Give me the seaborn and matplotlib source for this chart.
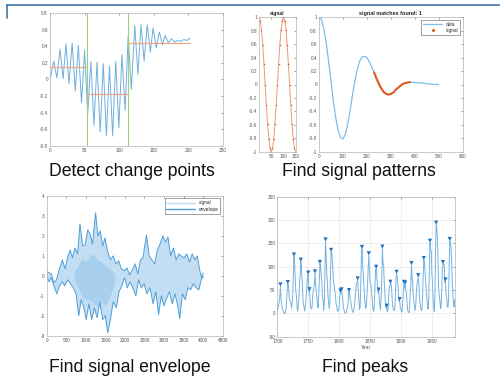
import numpy as np
import pandas as pd
import matplotlib.pyplot as plt
import seaborn as sns
from matplotlib.lines import Line2D

# Detect change points: extrema of the signal, change points and segment means
cp_x = [0, 5.5, 10, 14.5, 19, 23, 27.5, 32, 36.5, 41, 45.5, 50, 54.5, 59, 63.5, 68, 72.5,
        77, 81.5, 86, 90.5, 95, 99.5, 104, 108.5, 113, 117.5, 122.5, 127, 131.5, 136,
        140.5, 145, 149, 153.5, 158, 162.5, 166.5, 171, 175.5, 180, 184.5, 189, 193.5, 198, 202]
cp_y = [0.0, 0.22, 0.02, 0.37, 0.01, 0.43, -0.05, 0.44, -0.14, 0.41, -0.28, 0.35, -0.41,
        0.22, -0.55, 0.21, -0.63, 0.19, -0.68, 0.16, -0.68, 0.22, -0.58, 0.30, -0.37, 0.53,
        -0.12, 0.65, 0.06, 0.66, 0.22, 0.66, 0.33, 0.62, 0.38, 0.57, 0.42, 0.53, 0.44, 0.49,
        0.45, 0.47, 0.46, 0.48, 0.47, 0.50]
cp_breaks = [53, 112]
cp_start = [0, 53, 112]
cp_end = [53, 112, 202]
cp_mean = [0.15, -0.17, 0.44]

# Find signal patterns
sig_x = [1, 5, 10, 15, 20, 25, 30, 35, 40, 45, 50, 55, 60, 65, 70, 75, 80, 85, 90, 95,
         100, 105, 110, 115, 120, 125, 130, 135, 140, 145, 150]
sig_y = [1.0, 0.95, 0.81, 0.59, 0.31, 0.0, -0.31, -0.59, -0.81, -0.95, -1.0, -0.95, -0.81,
         -0.59, -0.31, 0.0, 0.31, 0.59, 0.81, 0.95, 1.0, 0.95, 0.81, 0.59, 0.31, 0.0, -0.31,
         -0.59, -0.81, -0.95, -1.0]
dat_x = [0, 10, 20, 30, 40, 50, 60, 70, 80, 90, 100, 110, 120, 130, 140, 150, 160, 170, 180,
         190, 200, 210, 220, 230, 240, 250, 260, 270, 280, 290, 300, 310, 320, 330, 340, 350,
         360, 370, 380, 390, 400, 420, 440, 460, 480, 500]
dat_y = [1.0, 0.97, 0.84, 0.62, 0.35, 0.05, -0.25, -0.50, -0.68, -0.79, -0.81, -0.74, -0.59,
         -0.38, -0.15, 0.06, 0.23, 0.35, 0.41, 0.42, 0.40, 0.34, 0.26, 0.18, 0.09, 0.01, -0.06,
         -0.11, -0.14, -0.15, -0.14, -0.12, -0.08, -0.05, -0.02, 0.01, 0.02, 0.03, 0.035, 0.03,
         0.03, 0.025, 0.02, 0.005, 0.0, 0.0]
match_lo, match_hi = 230, 380

# Find signal envelope
up_x = [0, 60, 120, 180, 250, 320, 400, 470, 530, 600, 660, 720, 790, 850, 920, 980, 1050,
        1110, 1170, 1250, 1310, 1370, 1430, 1490, 1560, 1630, 1700, 1770, 1840, 1910, 1980,
        2050, 2120, 2190, 2260, 2330, 2400, 2460, 2550, 2620, 2690, 2760, 2830, 2900, 2970,
        3040, 3100, 3170, 3240, 3310, 3380, 3440, 3510, 3580, 3650, 3720, 3790, 3850, 3910,
        3960, 4000]
up_y = [0.25, 0.15, 0.1, -0.35, -0.2, 0.3, 0.8, 0.35, 0.9, 1.3, 0.9, 1.4, 1.1, 2.6, 1.5,
        1.55, 2.3, 2.1, 1.6, 3.15, 2.0, 2.25, 1.5, 1.9, 1.2, 0.8, 1.0, 0.6, 0.75, 0.35, 0.25,
        0.4, 0.05, 0.3, 0.6, 0.1, 0.8, 0.9, 2.05, 1.0, 0.8, 0.6, 1.3, 1.6, 2.0, 1.7, 1.95,
        1.0, 1.4, 0.8, 1.1, 1.0, 0.9, 1.1, 0.7, 1.1, 0.8, 1.0, 0.3, -0.1, 0.15]
lo_x = [0, 60, 120, 200, 260, 330, 400, 460, 540, 610, 680, 750, 820, 880, 950, 1010, 1080,
        1150, 1220, 1290, 1360, 1430, 1500, 1560, 1620, 1700, 1780, 1850, 1920, 1990, 2060,
        2130, 2200, 2280, 2350, 2420, 2490, 2560, 2640, 2720, 2790, 2860, 2930, 3000, 3070,
        3140, 3210, 3280, 3350, 3400, 3470, 3540, 3610, 3680, 3750, 3820, 3890, 3950, 4000]
lo_y = [0.0, -0.3, -0.1, -0.6, -0.9, -0.5, -0.3, -0.5, -0.2, -0.4, -0.6, -0.9, -2.0, -1.2,
        -1.6, -2.2, -1.4, -2.2, -1.6, -2.1, -1.3, -2.2, -2.0, -2.85, -2.3, -1.3, -1.6, -0.8,
        -0.5, -0.1, -0.6, -0.3, -0.6, -1.0, -0.2, -0.6, -0.4, -0.9, -0.6, -1.4, -0.8, -1.95,
        -1.0, -1.5, -1.1, -0.8, -1.4, -0.9, -1.5, -2.15, -0.9, -1.2, -0.6, -0.7, -0.4, -0.6,
        -0.7, -0.2, -0.05]
# denser core of the signal trace
core_x = [700, 800, 900, 1000, 1100, 1200, 1300, 1400, 1500, 1600, 1700, 1760]
core_hi = [0.2, 0.5, 0.9, 0.7, 1.0, 1.1, 0.8, 0.7, 0.5, 0.4, 0.2, 0.0]
core_lo = [-0.2, -0.6, -1.0, -1.2, -1.2, -1.4, -1.5, -1.3, -1.5, -1.1, -0.6, 0.0]

# Find peaks: yearly sunspot numbers 1700-1987
years = np.arange(1700, 1988)
spots = [5, 11, 16, 23, 36, 58, 29, 20, 10, 8,
         3, 0, 0, 2, 11, 27, 47, 63, 60, 39,
         28, 26, 22, 11, 21, 40, 78, 122, 103, 73,
         47, 35, 11, 5, 16, 34, 70, 81, 111, 101,
         73, 40, 20, 16, 5, 11, 22, 40, 60, 80.9,
         83.4, 47.7, 47.8, 30.7, 12.2, 9.6, 10.2, 32.4, 47.6, 54,
         62.9, 85.9, 61.2, 45.1, 36.4, 20.9, 11.4, 37.8, 69.8, 106.1,
         100.8, 81.6, 66.5, 34.8, 30.6, 7, 19.8, 92.5, 154.4, 125.9,
         84.8, 68.1, 38.5, 22.8, 10.2, 24.1, 82.9, 132, 130.9, 118.1,
         89.9, 66.6, 60, 46.9, 41, 21.3, 16, 6.4, 4.1, 6.8,
         14.5, 34, 45, 43.1, 47.5, 42.2, 28.1, 10.1, 8.1, 2.5,
         0, 1.4, 5, 12.2, 13.9, 35.4, 45.8, 41.1, 30.1, 23.9,
         15.6, 6.6, 4, 1.8, 8.5, 16.6, 36.3, 49.6, 64.2, 67,
         70.9, 47.8, 27.5, 8.5, 13.2, 56.9, 121.5, 138.3, 103.2, 85.7,
         64.6, 36.7, 24.2, 10.7, 15, 40.1, 61.5, 98.5, 124.7, 96.3,
         66.6, 64.5, 54.1, 39, 20.6, 6.7, 4.3, 22.7, 54.8, 93.8,
         95.8, 77.2, 59.1, 44, 47, 30.5, 16.3, 7.3, 37.6, 74,
         139, 111.2, 101.6, 66.2, 44.7, 17, 11.3, 12.4, 3.4, 6,
         32.3, 54.3, 59.7, 63.7, 63.5, 52.2, 25.4, 13.1, 6.8, 6.3,
         7.1, 35.6, 73, 85.1, 78, 64, 41.8, 26.2, 26.7, 12.1,
         9.5, 2.7, 5, 24.4, 42, 63.5, 53.8, 62, 48.5, 43.9,
         18.6, 5.7, 3.6, 1.4, 9.6, 47.4, 57.1, 103.9, 80.6, 63.6,
         37.6, 26.1, 14.2, 5.8, 16.7, 44.3, 63.9, 69, 77.8, 64.9,
         35.7, 21.2, 11.1, 5.7, 8.7, 36.1, 79.7, 114.4, 109.6, 88.8,
         67.8, 47.5, 30.6, 16.3, 9.6, 33.2, 92.6, 151.6, 136.3, 134.7,
         83.9, 69.4, 31.5, 13.9, 4.4, 38, 141.7, 190.2, 184.8, 159,
         112.3, 53.9, 37.5, 27.9, 10.2, 15.1, 47, 93.8, 105.9, 105.5,
         104.5, 66.6, 68.9, 38, 34.5, 15.5, 12.6, 27.5, 92.5, 155.4,
         154.7, 140.5, 115.9, 66.6, 45.9, 17.9, 13.4, 29.2]

sns.set_theme(style="white")
plt.rcParams["font.family"] = ["Liberation Sans", "DejaVu Sans"]
plt.rcParams["axes.unicode_minus"] = False

fig = plt.figure(figsize=(5, 3.87), dpi=100)
W, H = 500, 387


def box(l, t, r, b):
    return [l / W, 1 - b / H, (r - l) / W, (b - t) / H]


def matlab(ax):
    ax.tick_params(direction="in", length=1.5, width=0.4, labelsize=3.4, colors="#555555",
                   top=True, right=True, pad=1.5)
    for s in ax.spines.values():
        s.set_color("#b4b4b4")
        s.set_linewidth(0.5)
    ax.set_xlabel("")
    ax.set_ylabel("")


# slide header
fig.add_artist(Line2D([7 / W, 1], [1 - 5 / H] * 2, transform=fig.transFigure, color="#4374ad", lw=1.2))
fig.add_artist(Line2D([7 / W] * 2, [1 - 5 / H, 1 - 18 / H], transform=fig.transFigure, color="#4374ad", lw=1.2))

# --- top left
ax1 = fig.add_axes(box(50, 13, 223, 146))
sns.lineplot(x=cp_x, y=cp_y, ax=ax1, color="#6cb0e0", lw=0.7, sort=False, estimator=None)
for s, e, m in zip(cp_start, cp_end, cp_mean):
    ax1.plot([s, e], [m, m], color="#f2a888", lw=0.9, zorder=3)
for b in cp_breaks:
    ax1.axvline(b, color="#9ccc7c", lw=0.8, zorder=4)
ax1.set_xlim(0, 250)
ax1.set_ylim(-0.8, 0.8)
ax1.set_xticks(range(0, 251, 50))
ax1.set_yticks(np.arange(-0.8, 0.81, 0.2))
ax1.set_yticklabels(["-0.8", "-0.6", "-0.4", "-0.2", "0", "0.2", "0.4", "0.6", "0.8"])
matlab(ax1)

# --- top right: signal
ax2 = fig.add_axes(box(259.3, 17.3, 295.7, 151.7))
sns.lineplot(x=sig_x, y=sig_y, ax=ax2, color="#ee9a74", lw=0.7, marker="o", ms=1.1,
             mec="none", mfc="#e0602a", sort=False, estimator=None)
ax2.set_xlim(1, 150)
ax2.set_ylim(-1, 1)
ax2.set_xticks([50, 100, 150])
ax2.set_yticks(np.arange(-1, 1.01, 0.2))
ax2.set_yticklabels(["-1", "-0.8", "-0.6", "-0.4", "-0.2", "0", "0.2", "0.4", "0.6", "0.8", "1"])
ax2.set_title("signal", fontsize=3.6, fontweight="bold", pad=1.5)
matlab(ax2)

# --- top right: data with match
ax3 = fig.add_axes(box(319, 17.3, 462.7, 151.7))
dat = pd.DataFrame({"x": dat_x, "y": dat_y})
seg = dat[(dat.x >= match_lo) & (dat.x <= match_hi)]
sns.lineplot(data=dat, x="x", y="y", ax=ax3, color="#7dbde8", lw=0.9, sort=False, estimator=None)
sns.lineplot(data=seg, x="x", y="y", ax=ax3, color="#e05a24", lw=1.5, sort=False, estimator=None)
ax3.set_xlim(0, 600)
ax3.set_ylim(-1, 1)
ax3.set_xticks(range(0, 601, 100))
ax3.set_yticks(np.arange(-1, 1.01, 0.2))
ax3.set_yticklabels(["-1", "-0.8", "-0.6", "-0.4", "-0.2", "0", "0.2", "0.4", "0.6", "0.8", "1"])
ax3.set_title("signal matches found: 1", fontsize=4, fontweight="bold", pad=1.5)
matlab(ax3)
h3 = [Line2D([], [], color="#7dbde8", lw=0.9),
      Line2D([], [], color="#e05a24", ls="none", marker="o", ms=1.2)]
leg = ax3.legend(h3, ["data", "signal"], loc="upper right", fontsize=3.4, frameon=True,
                 handlelength=4, borderpad=0.4, labelspacing=0.3, fancybox=False)
leg.get_frame().set_edgecolor("#333333")
leg.get_frame().set_linewidth(0.4)

# --- bottom left: envelope
ax4 = fig.add_axes(box(46.7, 196, 222.7, 335.7))
ax4.fill(np.r_[up_x, lo_x[::-1]], np.r_[up_y, lo_y[::-1]], color="#c3def3", lw=0)
ax4.fill_between(core_x, core_lo, core_hi, color="#a8d0ee", lw=0)
sns.lineplot(x=up_x, y=up_y, ax=ax4, color="#4f9fd8", lw=0.7, sort=False, estimator=None)
sns.lineplot(x=lo_x, y=lo_y, ax=ax4, color="#4f9fd8", lw=0.7, sort=False, estimator=None)
ax4.set_xlim(0, 4500)
ax4.set_ylim(-3, 4)
ax4.set_xticks(range(0, 4501, 500))
ax4.set_yticks(range(-3, 5))
matlab(ax4)
h4 = [Line2D([], [], color="#bddbf2", lw=1), Line2D([], [], color="#4f9fd8", lw=1)]
leg = ax4.legend(h4, ["signal", "envelope"], loc="upper right", fontsize=3.4, frameon=True,
                 handlelength=6, borderpad=0.4, labelspacing=0.3, fancybox=False)
leg.get_frame().set_edgecolor("#333333")
leg.get_frame().set_linewidth(0.4)

# --- bottom right: peaks
ax5 = fig.add_axes(box(277.3, 196.7, 454.7, 336.7))
sp = np.array(spots, dtype=float)
pk = np.where((sp[1:-1] > sp[:-2]) & (sp[1:-1] >= sp[2:]))[0] + 1
sns.lineplot(x=years, y=sp, ax=ax5, color="#72b3e2", lw=0.7, sort=False, estimator=None)
sns.scatterplot(x=years[pk], y=sp[pk] + 4, ax=ax5, marker="v", s=9, color="#1f72bd",
                edgecolor="none", zorder=3)
ax5.set_xlim(1700, 1987)
ax5.set_ylim(-50, 250)
ax5.set_xticks(range(1700, 1951, 50))
ax5.set_yticks(range(-50, 251, 50))
ax5.grid(True, color="#e3e3e3", lw=0.4)
matlab(ax5)
ax5.set_xlabel("Year", fontsize=3.6, color="#555555", labelpad=1)

# captions
cap = dict(fontsize=12.7, ha="center", va="center", color="#111111")
fig.text(132 / W, 1 - 172 / H, "Detect change points", **cap)
fig.text(359 / W, 1 - 172 / H, "Find signal patterns", **cap)
fig.text(130 / W, 1 - 368 / H, "Find signal envelope", **cap)
fig.text(365 / W, 1 - 368 / H, "Find peaks", **cap)

fig.savefig("out.png", dpi=100)
